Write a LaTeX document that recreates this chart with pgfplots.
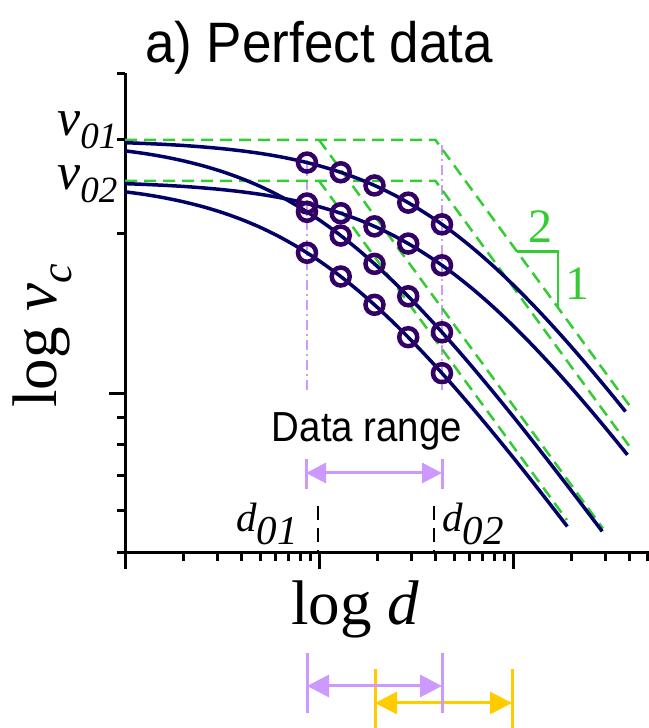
\documentclass[border=0pt]{standalone}
\usepackage{graphicx}
\usepackage{pgfplots}
\pgfplotsset{compat=1.18}
\usetikzlibrary{arrows.meta}
\usepackage{fontspec}
\setmainfont{Liberation Serif}
\newfontfamily\sans{Liberation Sans}
\definecolor{navy}{HTML}{000066}
\definecolor{circ}{HTML}{330066}
\definecolor{grn}{HTML}{33CC33}
\definecolor{lav}{HTML}{CC99FF}
\definecolor{yel}{HTML}{FFCC00}
\begin{document}
\begin{tikzpicture}
\path[use as bounding box] (0,0) rectangle (648pt,728pt);
% data-range guide lines (behind)
\begin{scope}[x=1pt,y=-1pt,yshift=728pt]
\draw[lav, line width=2.5pt, dash pattern=on 10pt off 4pt on 2pt off 4pt] (307,160) -- (307,390);
\draw[lav, line width=2.5pt, dash pattern=on 10pt off 4pt on 2pt off 4pt] (442,145) -- (442,390);
\end{scope}
\begin{axis}[
  at={(125pt,175pt)}, anchor=south west,
  scale only axis, width=523.6pt, height=479.5pt,
  xmin=0, xmax=2.699, ymin=-0.30103, ymax=0.60206,
  axis x line=bottom, axis y line=left,
  axis line style={-, line width=3pt, black},
  xtick={0,1,2},
  minor xtick={0.30103,0.47712,0.60206,0.69897,0.77815,0.84510,0.90309,0.95424,
               1.30103,1.47712,1.60206,1.69897,1.77815,1.84510,1.90309,1.95424,
               2.30103,2.47712,2.60206,2.6925},
  ytick={0},
  minor ytick={-0.30103,-0.22185,-0.15490,-0.09691,-0.04576,0.30103,0.47712,0.60206},
  xticklabels={}, yticklabels={},
  tick align=outside,
  major tick length=16pt, minor tick length=8pt,
  tick style={black, line width=3pt},
  clip=false,
]
% asymptotes
\addplot[grn, mark=none, line width=2.5pt, dash pattern=on 12pt off 7pt] coordinates {(0,0.4771) (1.6,0.4771) (2.603,-0.0245)};
\addplot[grn, mark=none, line width=2.5pt, dash pattern=on 12pt off 7pt] coordinates {(1.0,0.4771) (2.464,-0.2549)};
\addplot[grn, mark=none, line width=2.5pt, dash pattern=on 12pt off 7pt] coordinates {(0,0.40) (1.6,0.40) (2.598,-0.099)};
\addplot[grn, mark=none, line width=2.5pt, dash pattern=on 12pt off 7pt] coordinates {(1.0,0.40) (2.278,-0.239)};
% slope triangle
\draw[grn, line width=2.5pt] (axis cs:2.0206,0.2668) -- (axis cs:2.232,0.2668) -- (axis cs:2.232,0.1611);
% curves
\addplot[navy, mark=none, line width=3.5pt, smooth] coordinates {(0,0.4717) (0.1,0.4703) (0.2,0.4686) (0.3,0.4665) (0.4,0.4638) (0.5,0.4605) (0.6,0.4564) (0.7,0.4514) (0.8,0.4452) (0.9,0.4376) (1.0,0.4284) (1.1,0.4174) (1.2,0.4043) (1.3,0.3889) (1.4,0.3709) (1.5,0.3501) (1.6,0.3266) (1.7,0.3002) (1.8,0.2709) (1.9,0.2389) (2.0,0.2043) (2.1,0.1674) (2.2,0.1284) (2.3,0.0876) (2.4,0.0451) (2.5,0.0013) (2.58,-0.0346)};
\addplot[navy, mark=none, line width=3.5pt, smooth] coordinates {(0,0.3946) (0.1,0.3932) (0.2,0.3915) (0.3,0.3894) (0.4,0.3867) (0.5,0.3834) (0.6,0.3793) (0.7,0.3743) (0.8,0.3681) (0.9,0.3605) (1.0,0.3513) (1.1,0.3403) (1.2,0.3272) (1.3,0.3118) (1.4,0.2938) (1.5,0.2730) (1.6,0.2495) (1.7,0.2231) (1.8,0.1938) (1.9,0.1618) (2.0,0.1272) (2.1,0.0903) (2.2,0.0513) (2.3,0.0105) (2.4,-0.0320) (2.5,-0.0758) (2.59,-0.1162)};
\addplot[navy, mark=none, line width=3.5pt, smooth] coordinates {(0,0.4564) (0.1,0.4514) (0.2,0.4452) (0.3,0.4376) (0.4,0.4284) (0.5,0.4174) (0.6,0.4043) (0.7,0.3889) (0.8,0.3709) (0.9,0.3501) (1.0,0.3266) (1.1,0.3002) (1.2,0.2709) (1.3,0.2389) (1.4,0.2043) (1.5,0.1674) (1.6,0.1284) (1.7,0.0876) (1.8,0.0451) (1.9,0.0013) (2.0,-0.0436) (2.1,-0.0895) (2.2,-0.1362) (2.3,-0.1835) (2.4,-0.2314) (2.46,-0.2604)};
\addplot[navy, mark=none, line width=3.5pt, smooth] coordinates {(0,0.3793) (0.1,0.3743) (0.2,0.3681) (0.3,0.3605) (0.4,0.3513) (0.5,0.3403) (0.6,0.3272) (0.7,0.3118) (0.8,0.2938) (0.9,0.2730) (1.0,0.2495) (1.1,0.2231) (1.2,0.1938) (1.3,0.1618) (1.4,0.1272) (1.5,0.0903) (1.6,0.0513) (1.7,0.0105) (1.8,-0.0320) (1.9,-0.0758) (2.0,-0.1207) (2.1,-0.1666) (2.2,-0.2133) (2.28,-0.2511)};
% data points
\addplot[circ, only marks, mark=o, mark size=9pt, mark options={line width=4.5pt}] coordinates {
 (0.938,0.4343) (1.112,0.4160) (1.286,0.3912) (1.460,0.3588) (1.634,0.3179)
 (0.938,0.3572) (1.112,0.3389) (1.286,0.3141) (1.460,0.2817) (1.634,0.2408)
 (0.938,0.3415) (1.112,0.2968) (1.286,0.2435) (1.460,0.1825) (1.634,0.1147)
 (0.938,0.2644) (1.112,0.2197) (1.286,0.1664) (1.460,0.1054) (1.634,0.0376)};
\end{axis}
\begin{scope}[x=1pt,y=-1pt,yshift=728pt]
% title
\node[anchor=base, inner sep=0pt] at (319,63) {\sans\fontsize{57}{57}\selectfont\scalebox{0.93}[1]{a) Perfect data}};
% axis labels
\node[anchor=base, inner sep=0pt, rotate=90] at (56,336) {\fontsize{63}{63}\selectfont log \textit{v}\raisebox{-15pt}{\fontsize{44}{44}\selectfont\textit{c}}};
\node[anchor=base, inner sep=0pt] at (355,625) {\fontsize{63}{63}\selectfont log \textit{d}};
% v labels
\node[anchor=base west, inner sep=0pt] at (57,136) {\fontsize{52}{52}\selectfont\itshape v\raisebox{-13pt}{\fontsize{37}{37}\selectfont 01}};
\node[anchor=base west, inner sep=0pt] at (57,190) {\fontsize{52}{52}\selectfont\itshape v\raisebox{-13pt}{\fontsize{37}{37}\selectfont 02}};
% d labels
\node[anchor=base west, inner sep=0pt] at (236,532) {\fontsize{41}{41}\selectfont\itshape d\raisebox{-13pt}{01}};
\node[anchor=base west, inner sep=0pt] at (442,532) {\fontsize{41}{41}\selectfont\itshape d\raisebox{-13pt}{02}};
\draw[black, line width=2.5pt, dash pattern=on 14pt off 8pt] (318,506) -- (318,553);
\draw[black, line width=2.5pt, dash pattern=on 14pt off 8pt] (434,506) -- (434,553);
% slope numbers
\node[anchor=base, inner sep=0pt, text=grn] at (540,243) {\fontsize{48}{48}\selectfont 2};
\node[anchor=base, inner sep=0pt, text=grn] at (577,300) {\fontsize{48}{48}\selectfont 1};
% data range
\node[anchor=base, inner sep=0pt] at (367,442) {\sans\fontsize{42}{42}\selectfont\scalebox{0.915}[1]{Data range}};
\draw[lav, line width=3pt] (306,459) -- (306,489);
\draw[lav, line width=3pt] (442,459) -- (442,489);
\draw[lav, line width=3pt, {Triangle[length=20pt,width=20pt]}-{Triangle[length=20pt,width=20pt]}] (306,473) -- (442,473);
% bottom ranges
\draw[yel, line width=3pt] (375,669) -- (375,728);
\draw[yel, line width=3pt] (512,669) -- (512,728);
\draw[yel, line width=3pt, {Triangle[length=22pt,width=22pt]}-{Triangle[length=22pt,width=22pt]}] (375,703) -- (512,703);
\draw[lav, line width=3pt] (307,653) -- (307,713);
\draw[lav, line width=3pt] (442,653) -- (442,713);
\draw[lav, line width=3pt, {Triangle[length=22pt,width=22pt]}-{Triangle[length=22pt,width=22pt]}] (307,686) -- (442,686);
\end{scope}
\end{tikzpicture}
\end{document}
